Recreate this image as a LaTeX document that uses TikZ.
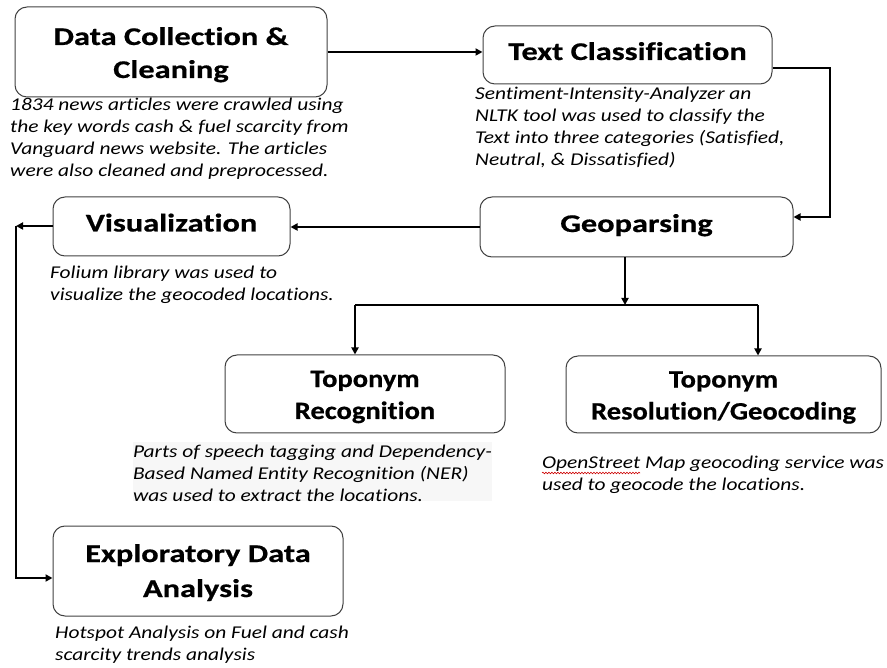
\documentclass[tikz,border=0pt]{standalone}
\usepackage{fontspec}
\setmainfont{Carlito}[Ligatures=NoCommon]
\newfontfamily\headfont{Carlito}[FakeStretch=1.27, Ligatures=NoCommon, BoldFeatures={FakeBold=0.6}]
\newfontfamily\placefont{Carlito}[FakeStretch=1.14, Ligatures=NoCommon, BoldFeatures={FakeBold=0.6}]
\newfontfamily\notefont{Carlito}[FakeStretch=1.19, Ligatures=NoCommon]
\usetikzlibrary{arrows.meta,decorations.pathmorphing}
% fixed line heights for two-line titles
\newcommand\tallrule[1]{\rule{0pt}{#1}}
\newcommand\deeprule{\rule[-6pt]{0pt}{6pt}}
\begin{document}
\begin{tikzpicture}[x=1pt,y=-1pt,
  stage/.style={draw=black!75, line width=1pt, rounded corners=12pt, align=center,
    font=\fontsize{25.5}{33}\selectfont\headfont\bfseries, inner sep=0pt},
  single/.style={stage, text height=15pt, text depth=5pt},
  place/.style={stage, font=\fontsize{25}{32}\selectfont\placefont\bfseries},
  note/.style={anchor=north west, align=left, inner sep=0pt,
    font=\fontsize{18}{22}\selectfont\notefont\itshape},
  flow/.style={line width=2.5pt, -{Triangle[length=7pt,width=7pt]}},
  link/.style={line width=2.5pt}]
\useasboundingbox (0,0) rectangle (887,668);

% process stages
\node[stage, minimum width=312pt, minimum height=90pt] (dc) at (171,52)
  {\tallrule{25pt}Data Collection \&\\Cleaning\deeprule};
\node[single, minimum width=289pt, minimum height=58pt] (tc) at (627.5,55) {Text Classification};
\node[single, minimum width=313pt, minimum height=60pt] (geo) at (636.5,227) {Geoparsing};
\node[single, minimum width=237pt, minimum height=59pt] (vis) at (171.5,226.5) {Visualization};
\node[place, minimum width=280pt, minimum height=78pt] (trg) at (365,394)
  {\tallrule{24pt}Toponym\\Recognition\deeprule};
\node[place, minimum width=315pt, minimum height=77pt] (trs) at (723.5,394.5)
  {\tallrule{24pt}Toponym\\Resolution/Geocoding\deeprule};
\node[stage, minimum width=290pt, minimum height=90pt,
  font=\fontsize{25.5}{35}\selectfont\headfont\bfseries] (eda) at (198,571)
  {\tallrule{23pt}Exploratory Data\\Analysis\deeprule};

% descriptions
\node[note] (dcn) at (10,94.6) {\strut 1834 news articles were crawled using\\the key words cash \& fuel scarcity from\\Vanguard news website. The articles\\were also cleaned and preprocessed.};
\node[note] (tcn) at (475,83.6) {\strut Sentiment-Intensity-Analyzer an\\NLTK tool was used to classify the\\Text into three categories (Satisfied,\\Neutral, \& Dissatisfied)};
\node[note] (visn) at (50,262.6) {\strut Folium library was used to\\visualize the geocoded locations.};
\node[note, fill=black!3, outer sep=0pt] (trgn) at (133,441.6) {\strut Parts of speech tagging and Dependency-\\Based Named Entity Recognition (NER)\\was used to extract the locations.};
\node[note] (trsn) at (542,452.6) {\strut OpenStreet Map geocoding service was\\used to geocode the locations.};
\node[note] (edan) at (55,622.6) {\strut Hotspot Analysis on Fuel and cash\\scarcity trends analysis};

% spelling mark under OpenStreet
\draw[red!80!black, line width=0.6pt, decorate, decoration={snake, amplitude=0.8pt, segment length=3pt}]
  (542,473) -- (640,473);

% route points
\coordinate (r1) at (830,68);
\coordinate (r2) at (830,217);
\coordinate (j) at (625,305);
\coordinate (jl) at (355,305);
\coordinate (jr) at (758,305);
\coordinate (l1) at (16,226);
\coordinate (l2) at (16,578);

% connectors
\draw[flow] (dc.east) -- (dc.east -| tc.west);
\draw[flow] (tc.east |- r1) -- (r1) -- (r2) -- (geo.east |- r2);
\draw[flow] (geo.west) -- (geo.west -| vis.east);
\draw[flow] (vis.west |- l1) -- (l1);
\draw[flow] (l1) -- (l2) -- (eda.west |- l2);
\draw[flow] (geo.south -| j) -- (j);
\draw[link] (jl) -- (jr);
\draw[flow] (jl) -- (trg.north -| jl);
\draw[flow] (jr) -- (trs.north -| jr);
\end{tikzpicture}
\end{document}
